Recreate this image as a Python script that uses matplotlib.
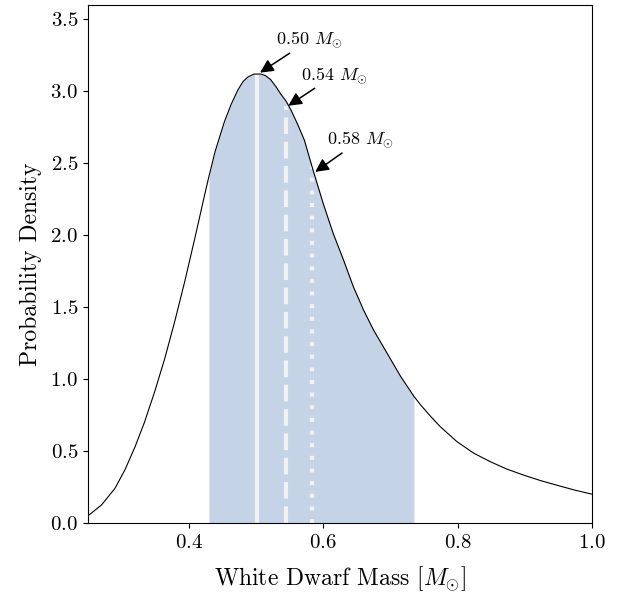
import numpy as np
import matplotlib
matplotlib.use("Agg")
import matplotlib.pyplot as plt

plt.rcParams["font.family"] = "serif"
plt.rcParams["font.serif"] = ["cmr10", "DejaVu Serif"]
plt.rcParams["mathtext.fontset"] = "cm"
plt.rcParams["axes.formatter.use_mathtext"] = True
plt.rcParams["axes.unicode_minus"] = False
plt.rcParams["lines.scale_dashes"] = False

# curve
mass = np.array([0.250, 0.270, 0.290, 0.305, 0.320, 0.334, 0.349, 0.364, 0.379,
                 0.394, 0.409, 0.424, 0.430, 0.439, 0.453, 0.463, 0.473, 0.481,
                 0.488, 0.497, 0.507, 0.514, 0.522, 0.530, 0.537, 0.545, 0.552,
                 0.562, 0.572, 0.585, 0.600, 0.615, 0.630, 0.645, 0.660, 0.675,
                 0.695, 0.715, 0.735, 0.745, 0.759, 0.774, 0.799, 0.824, 0.849,
                 0.873, 0.898, 0.923, 0.948, 0.973, 1.000])
density = np.array([0.05, 0.125, 0.24, 0.37, 0.53, 0.70, 0.91, 1.14, 1.40,
                    1.68, 1.98, 2.29, 2.41, 2.58, 2.79, 2.91, 3.01, 3.07,
                    3.10, 3.12, 3.12, 3.11, 3.08, 3.03, 2.98, 2.93, 2.87,
                    2.77, 2.66, 2.45, 2.22, 2.01, 1.83, 1.64, 1.48, 1.34,
                    1.18, 1.02, 0.88, 0.82, 0.745, 0.67, 0.565, 0.485, 0.425,
                    0.375, 0.333, 0.295, 0.262, 0.23, 0.20])

band = (0.430, 0.735)

# marked masses
marks = [0.502, 0.544, 0.584]
mark_heights = [3.12, 2.90, 2.48]
mark_labels = ["0.50", "0.54", "0.58"]
label_pos = [(0.579, 3.354), (0.616, 3.11), (0.655, 2.66)]
arrow_tips = [(0.506, 3.13), (0.548, 2.90), (0.588, 2.44)]

fig = plt.figure(figsize=(6.23, 5.97), dpi=100)
ax = fig.add_axes([0.1413, 0.124, 0.809, 0.8676])

ax.plot(mass, density, color="black", lw=0.8, zorder=3)

inside = (mass >= band[0]) & (mass <= band[1])
ax.fill_between(mass[inside], 0, density[inside], color="#c4d3e6", lw=0, zorder=1)

styles = ["-", (0, (12, 5.5)), (0, (2.9, 6.2))]
for m, h, ls in zip(marks, mark_heights, styles):
    ax.plot([m, m], [0, h], color="#f2f2f2", lw=3, ls=ls,
            solid_capstyle="butt", dash_capstyle="butt", zorder=2)

for lab, pos, tip in zip(mark_labels, label_pos, arrow_tips):
    ax.annotate(lab + r" $M_{\odot}$", xy=tip, xytext=pos, ha="center", va="center",
                fontsize=13,
                arrowprops=dict(arrowstyle="-|>", color="black", lw=1.1,
                                mutation_scale=20, shrinkA=0, shrinkB=0))

ax.set_xlim(0.25, 1.0)
ax.set_ylim(0, 3.6)
ax.set_xticks([0.4, 0.6, 0.8, 1.0])
ax.set_yticks(np.arange(0, 3.51, 0.5))
ax.tick_params(labelsize=15)
ax.tick_params(axis="x", pad=4.5)
ax.set_xlabel(r"White Dwarf Mass [$M_{\odot}$]", fontsize=17, labelpad=9)
ax.set_ylabel("Probability Density", fontsize=17, labelpad=6)

fig.savefig("out.png", dpi=100)
